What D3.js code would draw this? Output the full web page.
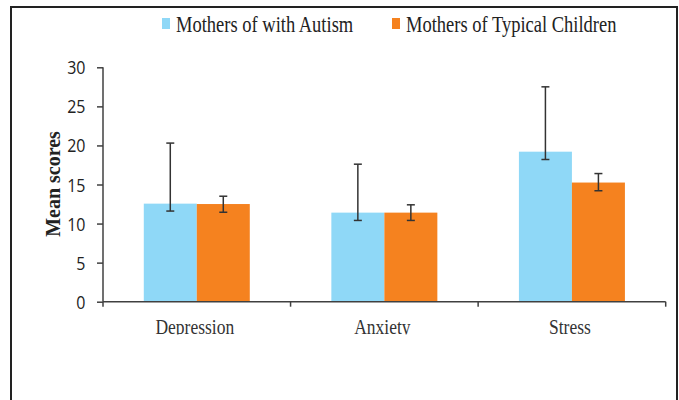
<!DOCTYPE html>
<html><head><meta charset="utf-8">
<script src="https://cdn.jsdelivr.net/npm/d3@7"></script>
<style>html,body{margin:0;padding:0;background:#fff;overflow:hidden}</style>
</head><body>
<script>
const categories = ["Depression", "Anxiety", "Stress"];
const seriesNames = ["Mothers of with Autism", "Mothers of Typical Children"];
const autism = [12.55, 11.4, 19.2];
const typical = [12.5, 11.4, 15.25];
const autismLow = [11.6, 10.4, 18.2];
const autismHigh = [20.3, 17.6, 27.5];
const typicalLow = [11.45, 10.4, 14.2];
const typicalHigh = [13.5, 12.4, 16.4];
const yTicks = [0, 5, 10, 15, 20, 25, 30];

const colors = ["#8FD8F7", "#F5821F"];
const W = 679, H = 400;
const svg = d3.select("body").append("svg").attr("width", W).attr("height", H);

// frame
svg.append("rect").attr("x", 11).attr("y", 7).attr("width", 666).attr("height", 420)
  .attr("fill", "none").attr("stroke", "#222").attr("stroke-width", 2);

const x0 = 103, x1r = 665.7, y0 = 301.7, yTop = 67.3;
const x = d3.scaleBand().domain(categories).range([x0, x1r]).padding(0);
const bw = x.bandwidth();
const barW = 53;
const xs = d3.scaleBand().domain(seriesNames).range([(bw - 2 * barW) / 2, (bw + 2 * barW) / 2]).padding(0);
const y = d3.scaleLinear().domain([0, 30]).range([y0, yTop]);

function stext(g, tx, ty, str, k) {
  return g.append("text").attr("transform", `translate(${tx},${ty}) scale(1,${k})`).text(str);
}

const rows = categories.map((c, i) => ({
  cat: c,
  vals: [
    { s: seriesNames[0], v: autism[i], lo: autismLow[i], hi: autismHigh[i], c: colors[0] },
    { s: seriesNames[1], v: typical[i], lo: typicalLow[i], hi: typicalHigh[i], c: colors[1] }
  ]
}));

// bars
const groups = svg.selectAll("g.grp").data(rows).enter().append("g")
  .attr("transform", d => `translate(${x(d.cat)},0)`);
groups.selectAll("rect").data(d => d.vals).enter().append("rect")
  .attr("x", d => xs(d.s)).attr("width", xs.bandwidth())
  .attr("y", d => y(d.v)).attr("height", d => y(0) - y(d.v))
  .attr("fill", d => d.c);

// error bars
const eb = groups.selectAll("g.eb").data(d => d.vals).enter().append("g")
  .attr("stroke", "#333").attr("stroke-width", 1.5);
const cx = d => xs(d.s) + xs.bandwidth() / 2;
eb.append("line").attr("x1", cx).attr("x2", cx).attr("y1", d => y(d.lo)).attr("y2", d => y(d.hi));
eb.append("line").attr("x1", d => cx(d) - 4).attr("x2", d => cx(d) + 4).attr("y1", d => y(d.lo)).attr("y2", d => y(d.lo));
eb.append("line").attr("x1", d => cx(d) - 4).attr("x2", d => cx(d) + 4).attr("y1", d => y(d.hi)).attr("y2", d => y(d.hi));

// y axis
const yAxis = svg.append("g").attr("transform", `translate(${x0},0)`)
  .call(d3.axisLeft(y).tickValues(yTicks).tickSize(6).tickFormat(""));
yAxis.selectAll("path,line").attr("stroke", "#404040").attr("stroke-width", 1.5);
yAxis.select("path").attr("d", `M-0,${y0}V${yTop}`);
const yl = svg.append("g").attr("font-family", "'Open Sans', sans-serif").attr("font-size", 16)
  .attr("fill", "#222").attr("text-anchor", "end");
yTicks.forEach(t => stext(yl, 85.5, y(t) + 7, String(t), 1.15));

// x axis
const xAxis = svg.append("g").attr("transform", `translate(0,${y0})`);
xAxis.append("line").attr("x1", x0).attr("x2", x1r).attr("stroke", "#404040").attr("stroke-width", 1.5);
const bounds = categories.map(c => x(c)).concat([x1r]);
xAxis.selectAll("line.tk").data(bounds).enter().append("line")
  .attr("x1", d => d).attr("x2", d => d).attr("y1", 0).attr("y2", 5)
  .attr("stroke", "#404040").attr("stroke-width", 1.5);

svg.append("clipPath").attr("id", "clipx").append("rect").attr("x", 0).attr("y", 300).attr("width", W).attr("height", 34.5);
const xl = svg.append("g").attr("clip-path", "url(#clipx)")
  .attr("font-family", "'Liberation Serif', serif").attr("font-size", 17.5).attr("fill", "#333").attr("text-anchor", "middle");
categories.forEach(c => stext(xl, x(c) + bw / 2 - 2, 333.5, c, 1.22));

// y label
svg.append("text").attr("transform", `translate(60,184) rotate(-90)`)
  .attr("text-anchor", "middle").attr("font-family", "'Liberation Serif', serif").attr("font-weight", "bold")
  .attr("font-size", 20).attr("fill", "#222").text("Mean scores");

// legend
const legX = [162, 392];
const leg = svg.append("g").attr("font-family", "'Liberation Serif', serif").attr("font-size", 18.5).attr("fill", "#222");
seriesNames.forEach((s, i) => {
  leg.append("rect").attr("x", legX[i]).attr("y", 18).attr("width", 8).attr("height", 11).attr("fill", colors[i]);
  stext(leg, legX[i] + 14, 32, s, 1.22);
});
</script>
</body></html>
